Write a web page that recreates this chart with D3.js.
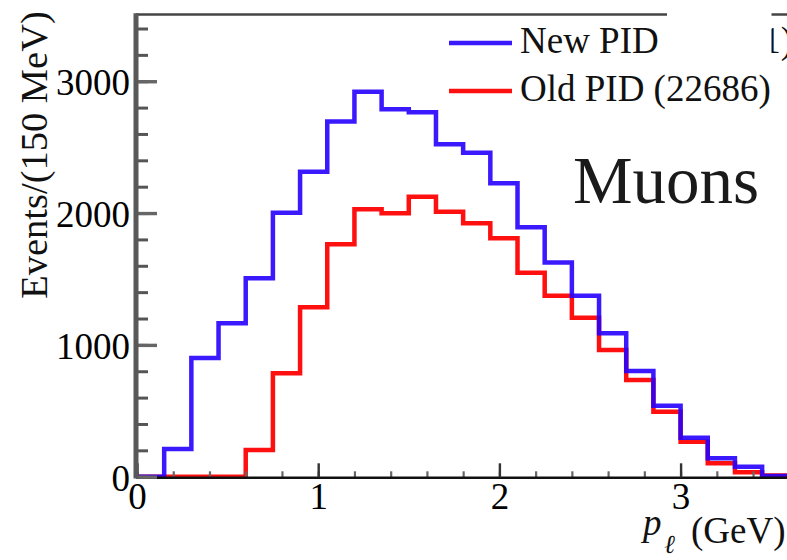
<!DOCTYPE html>
<html>
<head>
<meta charset="utf-8">
<script src="https://cdn.jsdelivr.net/npm/d3@7"></script>
<style>
  html, body { margin: 0; padding: 0; background: #fff; }
  svg { display: block; }
  text { font-family: "Liberation Serif", "DejaVu Serif", serif; }
</style>
</head>
<body>
<svg id="chart" width="787" height="560"></svg>
<script>
// Momentum spectrum of muon candidates, 150 MeV bins starting at 0 GeV
const binWidth = 0.15;
const binEdges = d3.range(0, 25).map(i => +(i * binWidth).toFixed(2));

// Events per bin, new particle-ID selection
const newPID = [0, 210, 900, 1164, 1505, 2003, 2314, 2694, 2921, 2788, 2765, 2522,
                2458, 2226, 1892, 1624, 1373, 1088, 802, 539, 296, 140, 76, 5];
// Events per bin, old particle-ID selection
const oldPID = [0, 0, 0, 0, 203, 784, 1285, 1763, 2029, 1998, 2124, 2010,
                1923, 1809, 1548, 1373, 1206, 961, 734, 493, 266, 102, 33, 10];

const xMajorTicks = [0, 1, 2, 3];
const xMinorTicks = d3.range(0, 18).map(i => +(i * 0.2).toFixed(1));
const yMajorTicks = [0, 1000, 2000, 3000];
const yMinorTicks = d3.range(0, 18).map(i => i * 200);

const legendEntries = [
  { label: "New PID", color: "#2600ff" },
  { label: "Old PID (22686)", color: "#ff1010" }
];

const svg = d3.select("#chart");

const x = d3.scaleLinear().domain([0, 3.6]).range([137, 789.3]);
const y = d3.scaleLinear().domain([0, 3510]).range([476.7, 14]);

// frame: top edge
svg.append("line")
  .attr("x1", 136).attr("x2", 787)
  .attr("y1", 14.5).attr("y2", 14.5)
  .attr("stroke", "#444").attr("stroke-width", 2.6);

// step outline of a histogram
function stepPoints(values) {
  const pts = values.map((v, i) => [binEdges[i], v]);
  pts.push([binEdges[values.length], values[values.length - 1]]);
  return pts;
}
const step = d3.line()
  .x(d => x(d[0]))
  .y(d => y(d[1]))
  .curve(d3.curveStepAfter);

svg.append("path")
  .attr("d", step(stepPoints(oldPID)))
  .attr("fill", "none")
  .attr("stroke", legendEntries[1].color)
  .attr("stroke-width", 4.5);

svg.append("path")
  .attr("d", step(stepPoints(newPID)))
  .attr("fill", "none")
  .attr("stroke", legendEntries[0].color)
  .attr("stroke-width", 4.5)
  .attr("stroke-opacity", 0.9);

// x axis: ticks point up into the plot
const xAxisG = svg.append("g").attr("transform", `translate(0,${y(0) + 0.6})`);
xAxisG.call(d3.axisBottom(x).tickValues(xMinorTicks).tickSizeInner(-6).tickSizeOuter(0).tickFormat(""));
xAxisG.call(g => g.selectAll(".tick line").attr("stroke", "#666").attr("stroke-width", 2.2));
const xMajorG = svg.append("g").attr("transform", `translate(0,${y(0) + 0.6})`);
xMajorG.call(d3.axisBottom(x).tickValues(xMajorTicks).tickSizeInner(-14).tickSizeOuter(0).tickPadding(32).tickFormat(d3.format("d")));
xMajorG.select(".domain").attr("stroke", "#111").attr("stroke-width", 2.6);
xMajorG.selectAll(".tick line").attr("stroke", "#333").attr("stroke-width", 2.4);
xMajorG.selectAll(".tick text")
  .attr("font-family", "Liberation Serif, serif")
  .attr("font-size", 37).attr("fill", "#000")
  .attr("dy", "0");
xAxisG.select(".domain").remove();

// y axis: ticks point right into the plot, labels on the left
const yMinorG = svg.append("g").attr("transform", "translate(136,0)");
yMinorG.call(d3.axisLeft(y).tickValues(yMinorTicks).tickSizeInner(-12).tickSizeOuter(0).tickFormat(""));
yMinorG.select(".domain").remove();
yMinorG.selectAll(".tick line").attr("stroke", "#555").attr("stroke-width", 3);
const yMajorG = svg.append("g").attr("transform", "translate(136,0)");
yMajorG.call(d3.axisLeft(y).tickValues(yMajorTicks).tickSizeInner(-21).tickSizeOuter(0).tickPadding(6).tickFormat(d3.format("d")));
yMajorG.select(".domain").remove();
yMajorG.selectAll(".tick line").attr("stroke", "#666").attr("stroke-width", 3.4);
yMajorG.selectAll(".tick text")
  .attr("font-family", "Liberation Serif, serif")
  .attr("font-size", 37).attr("fill", "#000")
  .attr("dy", "0.36em");

// y axis line
svg.append("line")
  .attr("x1", 136).attr("x2", 136)
  .attr("y1", 13.2).attr("y2", y(0) + 1.8)
  .attr("stroke", "#595959").attr("stroke-width", 5);

// legend
const legend = svg.append("g");
legendEntries.forEach((e, i) => {
  const ly = 43 + i * 48;
  legend.append("line")
    .attr("x1", 449).attr("x2", 512)
    .attr("y1", ly).attr("y2", ly)
    .attr("stroke", e.color).attr("stroke-width", 4.5)
    .attr("stroke-opacity", i === 0 ? 0.9 : 1);
  legend.append("text")
    .attr("x", 520).attr("y", ly + 10)
    .attr("font-size", 37).attr("fill", "#111")
    .text(e.label);
});

// tail of the neighbouring label, partly hidden behind a blank panel
svg.append("text")
  .attr("x", 793).attr("y", 53)
  .attr("text-anchor", "end")
  .attr("font-size", 37).attr("fill", "#111")
  .text("1)");
svg.append("rect")
  .attr("x", 667).attr("y", 0)
  .attr("width", 104.5).attr("height", 66)
  .attr("fill", "#fff");

// panel label
svg.append("text")
  .attr("x", 573).attr("y", 203)
  .attr("font-size", 67).attr("fill", "#1a1a1a")
  .text("Muons");

// y axis title
svg.append("text")
  .attr("transform", "translate(46.5,155) rotate(-90)")
  .attr("text-anchor", "middle")
  .attr("font-size", 38.5).attr("fill", "#111")
  .text("Events/(150 MeV)");

// x axis title
svg.append("text")
  .attr("x", 643).attr("y", 535)
  .attr("font-size", 37).attr("font-style", "italic").attr("fill", "#111")
  .text("p");
svg.append("text")
  .attr("x", 664).attr("y", 553)
  .attr("font-size", 26).attr("font-style", "italic").attr("fill", "#111")
  .text("ℓ");
svg.append("text")
  .attr("x", 691).attr("y", 543)
  .attr("font-size", 37).attr("fill", "#111")
  .text("(GeV)");
</script>
</body>
</html>
